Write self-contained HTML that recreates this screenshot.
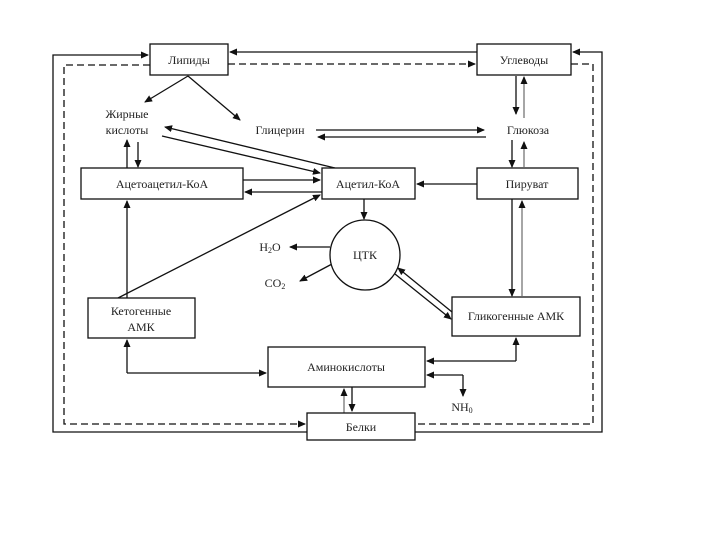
<!DOCTYPE html>
<html><head><meta charset="utf-8"><style>
html,body{margin:0;padding:0;background:#fff;width:720px;height:540px;overflow:hidden}
text{font-family:"Liberation Serif",serif;font-size:12px;fill:#222}
</style></head><body>
<svg width="720" height="540" viewBox="0 0 720 540" xmlns="http://www.w3.org/2000/svg">
<defs>
<marker id="a" markerWidth="8" markerHeight="8" refX="7" refY="4" orient="auto" markerUnits="userSpaceOnUse"><path d="M0,0.5 L8,4 L0,7.5 Z" fill="#111"/></marker>
</defs>
<g stroke="#111" stroke-width="1.3" fill="none">
<polyline points="307,432 53,432 53,55 148,55" marker-end="url(#a)"/>
<polyline points="415,432 602,432 602,52 573,52" marker-end="url(#a)"/>
<line x1="477" y1="52" x2="230" y2="52" marker-end="url(#a)"/>
<g stroke-dasharray="7,4">
<line x1="228" y1="64" x2="475" y2="64" marker-end="url(#a)"/>
<polyline points="571,64 593,64 593,424 417,424"/>
<polyline points="150,65 64,65 64,424 305,424" marker-end="url(#a)"/>
</g>
<line x1="188" y1="76" x2="145" y2="102" marker-end="url(#a)"/>
<line x1="188" y1="76" x2="240" y2="120" marker-end="url(#a)"/>
<line x1="127" y1="168" x2="127" y2="140" marker-end="url(#a)"/>
<line x1="138" y1="142" x2="138" y2="167" marker-end="url(#a)"/>
<line x1="243" y1="180" x2="320" y2="180" marker-end="url(#a)"/>
<line x1="322" y1="192" x2="245" y2="192" marker-end="url(#a)"/>
<line x1="335" y1="168" x2="165" y2="127" marker-end="url(#a)"/>
<line x1="162" y1="136" x2="320" y2="173" marker-end="url(#a)"/>
<line x1="118" y1="298" x2="320" y2="195" marker-end="url(#a)"/>
<line x1="127" y1="298" x2="127" y2="201" marker-end="url(#a)"/>
<line x1="316" y1="130" x2="484" y2="130" marker-end="url(#a)"/>
<line x1="486" y1="137" x2="318" y2="137" marker-end="url(#a)"/>
<line x1="516" y1="76" x2="516" y2="114" marker-end="url(#a)"/>
<line x1="524" y1="118" x2="524" y2="77" stroke="#777" marker-end="url(#a)"/>
<line x1="512" y1="140" x2="512" y2="167" marker-end="url(#a)"/>
<line x1="524" y1="167" x2="524" y2="142" stroke="#777" marker-end="url(#a)"/>
<line x1="477" y1="184" x2="417" y2="184" marker-end="url(#a)"/>
<line x1="364" y1="199" x2="364" y2="219" marker-end="url(#a)"/>
<line x1="512" y1="199" x2="512" y2="296" marker-end="url(#a)"/>
<line x1="522" y1="296" x2="522" y2="201" stroke="#777" marker-end="url(#a)"/>
<line x1="330" y1="247" x2="290" y2="247" marker-end="url(#a)"/>
<line x1="332" y1="264" x2="300" y2="281" marker-end="url(#a)"/>
<line x1="452" y1="312" x2="398" y2="268" marker-end="url(#a)"/>
<line x1="395" y1="274" x2="451" y2="319" marker-end="url(#a)"/>
<polyline points="127,373 127,340" marker-end="url(#a)"/>
<polyline points="127,373 266,373" marker-end="url(#a)"/>
<polyline points="516,361 516,338" marker-end="url(#a)"/>
<polyline points="516,361 427,361" marker-end="url(#a)"/>
<polyline points="463,375 427,375" marker-end="url(#a)"/>
<polyline points="463,375 463,396" marker-end="url(#a)"/>
<line x1="344" y1="413" x2="344" y2="389" stroke="#777" marker-end="url(#a)"/>
<line x1="352" y1="387" x2="352" y2="411" marker-end="url(#a)"/>
</g>
<g stroke="#111" stroke-width="1.3" fill="#fff">
<rect x="150" y="44" width="78" height="31"/>
<rect x="477" y="44" width="94" height="31"/>
<rect x="81" y="168" width="162" height="31"/>
<rect x="322" y="168" width="93" height="31"/>
<rect x="477" y="168" width="101" height="31"/>
<circle cx="365" cy="255" r="35"/>
<rect x="88" y="298" width="107" height="40"/>
<rect x="452" y="297" width="128" height="39"/>
<rect x="268" y="347" width="157" height="40"/>
<rect x="307" y="413" width="108" height="27"/>
</g>
<g text-anchor="middle">
<text x="189" y="64">Липиды</text>
<text x="524" y="64">Углеводы</text>
<text x="127" y="118">Жирные</text>
<text x="127" y="134">кислоты</text>
<text x="280" y="134">Глицерин</text>
<text x="528" y="134">Глюкоза</text>
<text x="162" y="188">Ацетоацетил-КоА</text>
<text x="368" y="188">Ацетил-КоА</text>
<text x="527" y="188">Пируват</text>
<text x="365" y="259">ЦТК</text>
<text x="270" y="251">H<tspan font-size="8" dy="2">2</tspan><tspan dy="-2">O</tspan></text>
<text x="275" y="287">CO<tspan font-size="8" dy="2">2</tspan></text>
<text x="141" y="315">Кетогенные</text>
<text x="141" y="331">АМК</text>
<text x="516" y="320">Гликогенные АМК</text>
<text x="346" y="371">Аминокислоты</text>
<text x="462" y="411">NH<tspan font-size="8" dy="2">0</tspan></text>
<text x="361" y="431">Белки</text>
</g>
</svg>
</body></html>
